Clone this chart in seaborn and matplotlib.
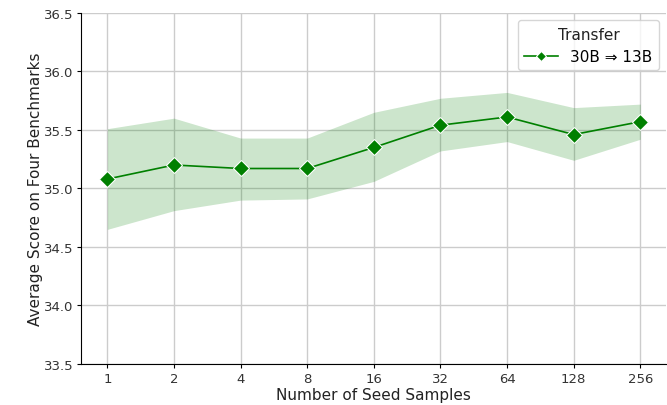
import numpy as np
import pandas as pd
import seaborn as sns
import matplotlib.pyplot as plt

seed_samples = ["1", "2", "4", "8", "16", "32", "64", "128", "256"]
avg_score = [35.08, 35.20, 35.17, 35.17, 35.35, 35.54, 35.61, 35.46, 35.57]
upper = [35.51, 35.60, 35.43, 35.43, 35.65, 35.77, 35.82, 35.69, 35.72]
lower = [34.65, 34.81, 34.90, 34.91, 35.06, 35.32, 35.40, 35.24, 35.42]

df = pd.DataFrame({"seed": seed_samples, "score": avg_score})
pos = np.arange(len(seed_samples))

fig, ax = plt.subplots(figsize=(6.67, 4.06), dpi=100)
sns.lineplot(data=df, x="seed", y="score", marker="D", markersize=8,
             color="green", linewidth=1.2, label="30B \u21d2 13B", ax=ax)
ax.fill_between(pos, lower, upper, color="green", alpha=0.2, linewidth=0)

ax.set_ylim(33.5, 36.5)
ax.set_xlim(-0.39, 8.39)
ax.set_yticks(np.arange(33.5, 36.51, 0.5))
ax.grid(True, color="#cccccc", linewidth=1)
ax.set_axisbelow(True)
for s in ["top", "right"]:
    ax.spines[s].set_visible(False)
ax.set_xlabel("Number of Seed Samples", fontsize=11, color="#222222", labelpad=2)
ax.set_ylabel("Average Score on Four Benchmarks", fontsize=11, color="#222222", labelpad=1)
ax.tick_params(labelsize=9.5, length=3, pad=2.5, labelcolor="#333333")
leg = ax.legend(title="Transfer", fontsize=11, title_fontsize=11, loc="upper right",
                markerscale=0.6, handlelength=2.2, borderaxespad=0.5)
plt.setp(leg.get_title(), color="#222222")

fig.subplots_adjust(left=0.122, right=0.999, top=0.966, bottom=0.101)
fig.savefig("out.png", dpi=100)
